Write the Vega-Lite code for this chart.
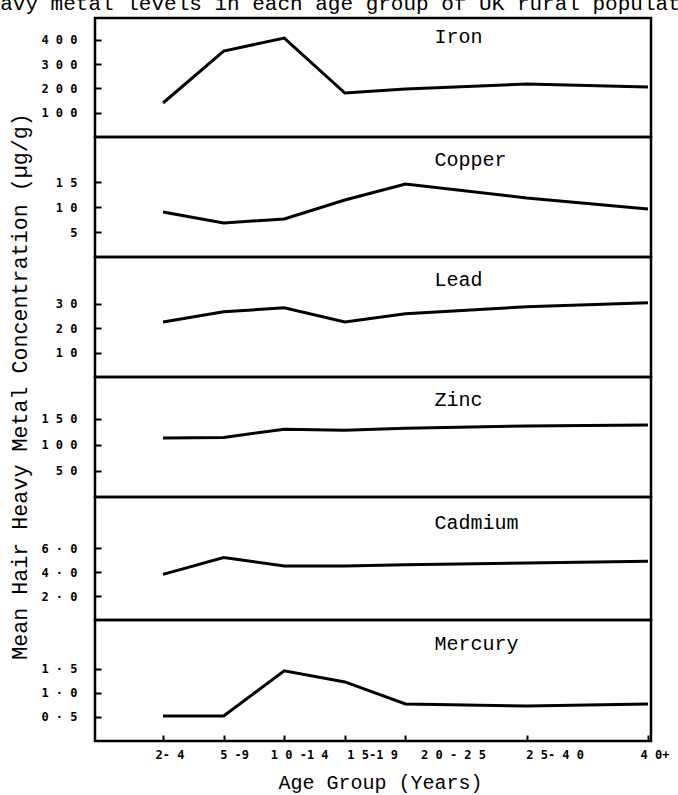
{
  "$schema": "https://vega.github.io/schema/vega-lite/v6.json",
  "padding": {"left": -25, "top": -8, "right": -40, "bottom": 0},
  "title": {"text": "Heavy metal levels in each age group of UK rural population", "font": "Liberation Mono", "fontSize": 21, "fontWeight": "normal", "anchor": "start", "frame": "group", "dx": -120, "offset": 3, "color": "black"},
  "datasets": {
    "hair": [
      {"metal": "Iron", "age": "2-4", "pos": 0, "value": 140},
      {"metal": "Iron", "age": "5-9", "pos": 1, "value": 354},
      {"metal": "Iron", "age": "10-14", "pos": 2, "value": 407},
      {"metal": "Iron", "age": "15-19", "pos": 3, "value": 181},
      {"metal": "Iron", "age": "20-25", "pos": 4, "value": 198},
      {"metal": "Iron", "age": "25-40", "pos": 6, "value": 218},
      {"metal": "Iron", "age": "40+", "pos": 8, "value": 206},
      {"metal": "Copper", "age": "2-4", "pos": 0, "value": 9.0},
      {"metal": "Copper", "age": "5-9", "pos": 1, "value": 6.8},
      {"metal": "Copper", "age": "10-14", "pos": 2, "value": 7.6},
      {"metal": "Copper", "age": "15-19", "pos": 3, "value": 11.4},
      {"metal": "Copper", "age": "20-25", "pos": 4, "value": 14.6},
      {"metal": "Copper", "age": "25-40", "pos": 6, "value": 11.8},
      {"metal": "Copper", "age": "40+", "pos": 8, "value": 9.6},
      {"metal": "Lead", "age": "2-4", "pos": 0, "value": 22.5},
      {"metal": "Lead", "age": "5-9", "pos": 1, "value": 26.6},
      {"metal": "Lead", "age": "10-14", "pos": 2, "value": 28.3},
      {"metal": "Lead", "age": "15-19", "pos": 3, "value": 22.5},
      {"metal": "Lead", "age": "20-25", "pos": 4, "value": 25.8},
      {"metal": "Lead", "age": "25-40", "pos": 6, "value": 28.7},
      {"metal": "Lead", "age": "40+", "pos": 8, "value": 30.3},
      {"metal": "Zinc", "age": "2-4", "pos": 0, "value": 113},
      {"metal": "Zinc", "age": "5-9", "pos": 1, "value": 114},
      {"metal": "Zinc", "age": "10-14", "pos": 2, "value": 130},
      {"metal": "Zinc", "age": "15-19", "pos": 3, "value": 128},
      {"metal": "Zinc", "age": "20-25", "pos": 4, "value": 132},
      {"metal": "Zinc", "age": "25-40", "pos": 6, "value": 136},
      {"metal": "Zinc", "age": "40+", "pos": 8, "value": 138},
      {"metal": "Cadmium", "age": "2-4", "pos": 0, "value": 3.8},
      {"metal": "Cadmium", "age": "5-9", "pos": 1, "value": 5.2},
      {"metal": "Cadmium", "age": "10-14", "pos": 2, "value": 4.5},
      {"metal": "Cadmium", "age": "15-19", "pos": 3, "value": 4.5},
      {"metal": "Cadmium", "age": "20-25", "pos": 4, "value": 4.6},
      {"metal": "Cadmium", "age": "25-40", "pos": 6, "value": 4.75},
      {"metal": "Cadmium", "age": "40+", "pos": 8, "value": 4.9},
      {"metal": "Mercury", "age": "2-4", "pos": 0, "value": 0.52},
      {"metal": "Mercury", "age": "5-9", "pos": 1, "value": 0.52},
      {"metal": "Mercury", "age": "10-14", "pos": 2, "value": 1.46},
      {"metal": "Mercury", "age": "15-19", "pos": 3, "value": 1.23},
      {"metal": "Mercury", "age": "20-25", "pos": 4, "value": 0.77},
      {"metal": "Mercury", "age": "25-40", "pos": 6, "value": 0.73},
      {"metal": "Mercury", "age": "40+", "pos": 8, "value": 0.77}
    ]
  },
  "spacing": 0,
  "bounds": "flush",
  "vconcat": [
    {
      "width": 556, "height": 119,
      "layer": [
        {"data": {"name": "hair"},
         "transform": [{"filter": "datum.metal == 'Iron'"}],
         "mark": {"type": "line", "color": "black", "strokeWidth": 3},
         "encoding": {
           "x": {"field": "pos", "type": "quantitative", "scale": {"domain": [-1.122, 8.05], "nice": false, "zero": false}, "axis": null},
           "y": {"field": "value", "type": "quantitative", "scale": {"domain": [0, 490], "nice": false}, "axis": {"values": [100, 200, 300, 400], "title": null, "labelOverlap": false}}}},
        {"data": {"values": [{"label": "Iron"}]},
         "mark": {"type": "text", "align": "left", "baseline": "middle", "font": "Liberation Mono", "fontSize": 20, "fontWeight": "normal", "color": "black"},
         "encoding": {"text": {"field": "label"}, "x": {"datum": 4.48, "type": "quantitative", "axis": null}, "y": {"datum": 411, "type": "quantitative", "axis": {"values": [100, 200, 300, 400], "title": null, "labelOverlap": false}}}}
      ]
    },
    {
      "width": 556, "height": 120,
      "layer": [
        {"data": {"name": "hair"},
         "transform": [{"filter": "datum.metal == 'Copper'"}],
         "mark": {"type": "line", "color": "black", "strokeWidth": 3},
         "encoding": {
           "x": {"field": "pos", "type": "quantitative", "scale": {"domain": [-1.122, 8.05], "nice": false, "zero": false}, "axis": null},
           "y": {"field": "value", "type": "quantitative", "scale": {"domain": [0, 24], "nice": false}, "axis": {"values": [5, 10, 15], "title": null}}}},
        {"data": {"values": [{"label": "Copper"}]},
         "mark": {"type": "text", "align": "left", "baseline": "middle", "font": "Liberation Mono", "fontSize": 20, "fontWeight": "normal", "color": "black"},
         "encoding": {"text": {"field": "label"}, "x": {"datum": 4.48, "type": "quantitative", "axis": null}, "y": {"datum": 19.4, "type": "quantitative", "axis": {"values": [5, 10, 15], "title": null}}}}
      ]
    },
    {
      "width": 556, "height": 120,
      "layer": [
        {"data": {"name": "hair"},
         "transform": [{"filter": "datum.metal == 'Lead'"}],
         "mark": {"type": "line", "color": "black", "strokeWidth": 3},
         "encoding": {
           "x": {"field": "pos", "type": "quantitative", "scale": {"domain": [-1.122, 8.05], "nice": false, "zero": false}, "axis": null},
           "y": {"field": "value", "type": "quantitative", "scale": {"domain": [0, 49], "nice": false}, "axis": {"values": [10, 20, 30], "title": null}}}},
        {"data": {"values": [{"label": "Lead"}]},
         "mark": {"type": "text", "align": "left", "baseline": "middle", "font": "Liberation Mono", "fontSize": 20, "fontWeight": "normal", "color": "black"},
         "encoding": {"text": {"field": "label"}, "x": {"datum": 4.48, "type": "quantitative", "axis": null}, "y": {"datum": 39.6, "type": "quantitative", "axis": {"values": [10, 20, 30], "title": null}}}}
      ]
    },
    {
      "width": 556, "height": 120,
      "layer": [
        {"data": {"name": "hair"},
         "transform": [{"filter": "datum.metal == 'Zinc'"}],
         "mark": {"type": "line", "color": "black", "strokeWidth": 3},
         "encoding": {
           "x": {"field": "pos", "type": "quantitative", "scale": {"domain": [-1.122, 8.05], "nice": false, "zero": false}, "axis": null},
           "y": {"field": "value", "type": "quantitative", "scale": {"domain": [0, 230], "nice": false}, "axis": {"values": [50, 100, 150], "title": "Mean Hair Heavy Metal Concentration (µg/g)", "titleFontSize": 21.7, "titleX": -75, "titleY": 9, "titleAngle": 270, "titleAlign": "center", "titleBaseline": "alphabetic"}}}},
        {"data": {"values": [{"label": "Zinc"}]},
         "mark": {"type": "text", "align": "left", "baseline": "middle", "font": "Liberation Mono", "fontSize": 20, "fontWeight": "normal", "color": "black"},
         "encoding": {"text": {"field": "label"}, "x": {"datum": 4.48, "type": "quantitative", "axis": null}, "y": {"datum": 186, "type": "quantitative", "axis": {"values": [50, 100, 150], "title": "Mean Hair Heavy Metal Concentration (µg/g)", "titleFontSize": 21.7, "titleX": -75, "titleY": 9, "titleAngle": 270, "titleAlign": "center", "titleBaseline": "alphabetic"}}}}
      ]
    },
    {
      "width": 556, "height": 123,
      "layer": [
        {"data": {"name": "hair"},
         "transform": [{"filter": "datum.metal == 'Cadmium'"}],
         "mark": {"type": "line", "color": "black", "strokeWidth": 3},
         "encoding": {
           "x": {"field": "pos", "type": "quantitative", "scale": {"domain": [-1.122, 8.05], "nice": false, "zero": false}, "axis": null},
           "y": {"field": "value", "type": "quantitative", "scale": {"domain": [0, 10.25], "nice": false}, "axis": {"values": [2, 4, 6], "title": null, "labelExpr": "join(split(replace(format(datum.value, '.1f'), '.', '·'), ''), ' ')"}}}},
        {"data": {"values": [{"label": "Cadmium"}]},
         "mark": {"type": "text", "align": "left", "baseline": "middle", "font": "Liberation Mono", "fontSize": 20, "fontWeight": "normal", "color": "black"},
         "encoding": {"text": {"field": "label"}, "x": {"datum": 4.48, "type": "quantitative", "axis": null}, "y": {"datum": 8.1, "type": "quantitative", "axis": {"values": [2, 4, 6], "title": null, "labelExpr": "join(split(replace(format(datum.value, '.1f'), '.', '·'), ''), ' ')"}}}}
      ]
    },
    {
      "width": 556, "height": 121,
      "layer": [
        {"data": {"name": "hair"},
         "transform": [{"filter": "datum.metal == 'Mercury'"}],
         "mark": {"type": "line", "color": "black", "strokeWidth": 3},
         "encoding": {
           "x": {"field": "pos", "type": "quantitative", "scale": {"domain": [-1.122, 8.05], "nice": false, "zero": false},
                 "axis": {"values": [0, 1, 2, 3, 4, 6, 8], "title": "Age Group (Years)", "titleFontSize": 20, "titleX": 285, "titleAlign": "center", "titlePadding": 12, "labelPadding": 8, "labelAlign": "left",
                          "labelOffset": {"condition": [{"test": "datum.value == 1", "value": -4}, {"test": "datum.value == 2", "value": -14}, {"test": "datum.value == 3", "value": 2}, {"test": "datum.value == 4", "value": 15}, {"test": "datum.value == 6", "value": -1}], "value": -8},
                          "labelExpr": "datum.value == 0 ? '2- 4' : datum.value == 1 ? '5 -9' : datum.value == 2 ? '1 0 -1 4' : datum.value == 3 ? '1 5-1 9' : datum.value == 4 ? '2 0 - 2 5' : datum.value == 6 ? '2 5- 4 0' : '4 0+'"}},
           "y": {"field": "value", "type": "quantitative", "scale": {"domain": [0, 2.52], "nice": false}, "axis": {"values": [0.5, 1, 1.5], "title": null, "labelExpr": "join(split(replace(format(datum.value, '.1f'), '.', '·'), ''), ' ')"}}}},
        {"data": {"values": [{"label": "Mercury"}]},
         "mark": {"type": "text", "align": "left", "baseline": "middle", "font": "Liberation Mono", "fontSize": 20, "fontWeight": "normal", "color": "black"},
         "encoding": {"text": {"field": "label"},
           "x": {"datum": 4.48, "type": "quantitative",
                 "axis": {"values": [0, 1, 2, 3, 4, 6, 8], "title": "Age Group (Years)", "titleFontSize": 20, "titleX": 285, "titleAlign": "center", "titlePadding": 12, "labelPadding": 8, "labelAlign": "left",
                          "labelOffset": {"condition": [{"test": "datum.value == 1", "value": -4}, {"test": "datum.value == 2", "value": -14}, {"test": "datum.value == 3", "value": 2}, {"test": "datum.value == 4", "value": 15}, {"test": "datum.value == 6", "value": -1}], "value": -8},
                          "labelExpr": "datum.value == 0 ? '2- 4' : datum.value == 1 ? '5 -9' : datum.value == 2 ? '1 0 -1 4' : datum.value == 3 ? '1 5-1 9' : datum.value == 4 ? '2 0 - 2 5' : datum.value == 6 ? '2 5- 4 0' : '4 0+'"}},
           "y": {"datum": 2.02, "type": "quantitative", "axis": {"values": [0.5, 1, 1.5], "title": null, "labelExpr": "join(split(replace(format(datum.value, '.1f'), '.', '·'), ''), ' ')"}}}}
      ]
    }
  ],
  "config": {
    "font": "Liberation Mono",
    "view": {"stroke": "black", "strokeWidth": 2.5},
    "axis": {"labelFont": "DejaVu Sans Mono", "labelFontSize": 12, "labelFontWeight": "bold", "labelColor": "black", "labelOverlap": false, "ticks": true, "tickColor": "black", "tickWidth": 2, "tickSize": 6, "offset": -6, "zindex": 1, "labelPadding": 18, "domain": false, "grid": false, "titleFont": "Liberation Mono", "titleFontSize": 21, "titleFontWeight": "normal", "titleColor": "black", "labelExpr": "join(split(datum.label, ''), ' ')"}
  }
}
